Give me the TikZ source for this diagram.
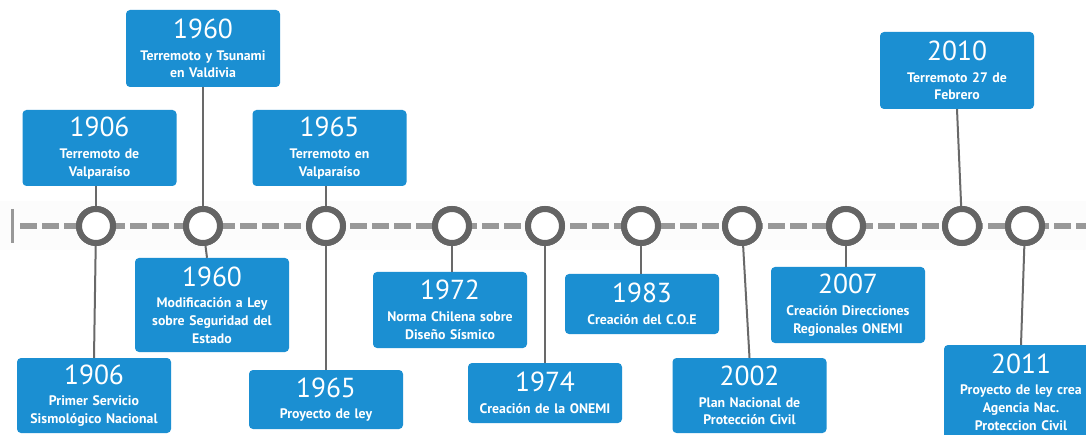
\documentclass[tikz,border=0pt]{standalone}
\usepackage{fontspec}
\setmainfont{PT Sans}
\usetikzlibrary{calc}
\definecolor{boxblue}{RGB}{27,143,210}
\definecolor{ringgray}{RGB}{100,100,100}
\definecolor{dashgray}{RGB}{152,152,152}
\definecolor{linkgray}{RGB}{105,105,105}
\definecolor{bandgray}{RGB}{252,252,252}
\newcommand{\descfont}{\fontsize{13.8}{17.7}\selectfont\bfseries}
\newcommand{\yearline}[1]{{\fontsize{27.5}{25}\selectfont\mdseries #1}\\[4pt]}
\tikzset{
  eventbox/.style={fill=boxblue, rounded corners=4pt, text=white, align=center,
    text width=152pt, minimum width=154pt, inner sep=1pt, font=\descfont},
  ring/.style={circle, draw=ringgray, fill=white, line width=6pt,
    minimum size=34pt, inner sep=0pt},
  link/.style={draw=linkgray, line width=2pt},
  axis/.style={draw=dashgray, line width=6pt, dash pattern=on 17pt off 5pt}
}
\begin{document}
\begin{tikzpicture}[x=1pt, y=-1pt]
\useasboundingbox (0,0) rectangle (1086,435);
\clip (0,0) rectangle (1086,435);
\fill[white] (0,0) rectangle (1086,435);
% faint band behind the axis
\fill[bandgray] (0,201) rectangle (1086,250);

% axis
\coordinate (axstart) at (20,226);
\coordinate (axend) at (1090,226);
\coordinate (bartop) at (12,209);
\coordinate (barbot) at (12,243);
\draw[axis] (axstart) -- (axend);
\draw[draw=dashgray, line width=3pt] (bartop) -- (barbot);

% rings on the axis
\foreach \n/\x in {c1/96, c2/203, c3/326, c4/452, c5/545, c6/641, c7/742, c8/846, c9/962, c10/1025}
  \node[ring] (\n) at (\x,226) {};

% event boxes above the axis
\node[eventbox, minimum height=76pt] (t1906) at (99.5,148) {\yearline{1906}Terremoto de\\Valparaíso};
\node[eventbox, minimum height=77pt] (t1960) at (203,48.5) {\yearline{1960}Terremoto y Tsunami\\en Valdivia};
\node[eventbox, minimum height=76pt] (t1965) at (329.5,148) {\yearline{1965}Terremoto en\\Valparaíso};
\node[eventbox, minimum height=77pt] (t2010) at (957,70.5) {\yearline{2010}Terremoto 27 de\\Febrero};

% event boxes below the axis
\node[eventbox, minimum height=75pt] (b1906) at (94,395.5) {\yearline{1906}Primer Servicio\\Sismológico Nacional};
\node[eventbox, minimum height=94pt] (b1960) at (212,305) {\yearline{1960}Modificación a Ley\\sobre Seguridad del\\Estado};
\node[eventbox, minimum height=59pt] (b1965) at (326,399.5) {\yearline{1965}Proyecto de ley};
\node[eventbox, minimum height=76pt] (b1972) at (450,310) {\yearline{1972}Norma Chilena sobre\\Diseño Sísmico};
\node[eventbox, minimum height=60pt] (b1974) at (545,393) {\yearline{1974}Creación de la ONEMI};
\node[eventbox, minimum height=60pt] (b1983) at (642,304) {\yearline{1983}Creación del C.O.E};
\node[eventbox, minimum height=75pt] (b2002) at (749.5,395.5) {\yearline{2002}Plan Nacional de\\Protección Civil};
\node[eventbox, minimum height=76pt] (b2007) at (848,305) {\yearline{2007}Creación Direcciones\\Regionales ONEMI};
\node[eventbox, minimum height=94pt] (b2011) at (1021,392) {\yearline{2011}Proyecto de ley crea\\Agencia Nac.\\Proteccion Civil};

% connectors
\draw[link] (t1906.south -| c1) -- (c1);
\draw[link] (t1960.south) -- (c2);
\draw[link] (t1965.south -| c3) -- (c3);
\draw[link] (t2010.south) -- (c9);
\draw[link] (c1) -- (b1906.north);
\draw[link] (c2) -- ($(b1960.north)+(-5,0)$);
\draw[link] (c3) -- (b1965.north);
\draw[link] (c4) -- (b1972.north -| c4);
\draw[link] (c5) -- (b1974.north);
\draw[link] (c6) -- (b1983.north -| c6);
\draw[link] (c7) -- (b2002.north);
\draw[link] (c8) -- (b2007.north -| c8);
\draw[link] (c10) -- (b2011.north);

% redraw the rings over the connector ends
\foreach \n/\x in {c1/96, c2/203, c3/326, c4/452, c5/545, c6/641, c7/742, c8/846, c9/962, c10/1025}
  \node[ring] at (\x,226) {};
\end{tikzpicture}
\end{document}
